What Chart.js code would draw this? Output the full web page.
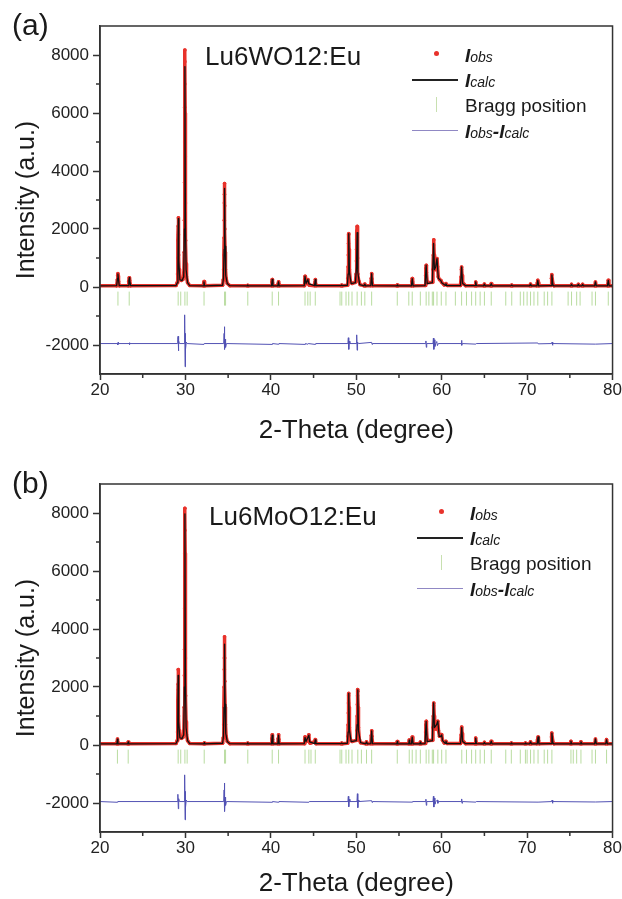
<!DOCTYPE html>
<html>
<head>
<meta charset="utf-8">
<script src="https://cdn.jsdelivr.net/npm/chart.js@4.4.1/dist/chart.umd.min.js"></script>
<style>
  body { margin: 0; background: #fff; font-family: "Liberation Sans", Arial, sans-serif; }
  #wrap { position: relative; width: 622px; height: 899px; overflow: hidden; }
  canvas { position: absolute; left: 0; }
  .t { position: absolute; white-space: nowrap; line-height: 1; color: #1a1a1a; }
  .tag { font-size: 30px; }
  .name { font-size: 26px; }
  .leg { font-size: 19px; }
  .leg b { font-style: italic; }
  .leg i { font-size: 14px; }
  .sym { position: absolute; }
</style>
</head>
<body>
<div id="wrap">
  <canvas id="chartA" width="622" height="458" style="top:0px"></canvas>
  <canvas id="chartB" width="622" height="441" style="top:458px"></canvas>

  <div class="t tag" style="left:12px; top:10px">(a)</div>
  <div class="t name" style="left:205px; top:43px">Lu6WO12:Eu</div>
  <div class="sym" style="left:434px; top:51px; width:5px; height:5px; border-radius:50%; background:#e8322b"></div>
  <div class="t leg" style="left:465px; top:46px"><b>I</b><i>obs</i></div>
  <div class="sym" style="left:412px; top:79px; width:46px; height:2px; background:#222"></div>
  <div class="t leg" style="left:465px; top:71px"><b>I</b><i>calc</i></div>
  <div class="sym" style="left:436px; top:97px; width:1px; height:15px; background:#c8e0b0"></div>
  <div class="t leg" style="left:465px; top:96px">Bragg position</div>
  <div class="sym" style="left:412px; top:130px; width:46px; height:1px; background:#9088c4"></div>
  <div class="t leg" style="left:465px; top:122px"><b>I</b><i>obs</i><b>-I</b><i>calc</i></div>

  <div class="t tag" style="left:12px; top:468px">(b)</div>
  <div class="t name" style="left:209px; top:503px">Lu6MoO12:Eu</div>
  <div class="sym" style="left:439px; top:509px; width:5px; height:5px; border-radius:50%; background:#e8322b"></div>
  <div class="t leg" style="left:470px; top:504px"><b>I</b><i>obs</i></div>
  <div class="sym" style="left:417px; top:537px; width:46px; height:2px; background:#222"></div>
  <div class="t leg" style="left:470px; top:529px"><b>I</b><i>calc</i></div>
  <div class="sym" style="left:441px; top:555px; width:1px; height:15px; background:#c8e0b0"></div>
  <div class="t leg" style="left:470px; top:554px">Bragg position</div>
  <div class="sym" style="left:417px; top:588px; width:46px; height:1px; background:#9088c4"></div>
  <div class="t leg" style="left:470px; top:580px"><b>I</b><i>obs</i><b>-I</b><i>calc</i></div>
</div>

<script>
// axis ticks
var xMajor = [20, 30, 40, 50, 60, 70, 80];
var xMinor = [25, 35, 45, 55, 65, 75];
var yMajor = [-2000, 0, 2000, 4000, 6000, 8000];
var yMinor = [-1000, 1000, 3000, 5000, 7000];

// (a) Lu6WO12:Eu  -- [2theta, intensity]
var calcA = [
  [20,40],[21.95,45],[22.05,300],[22.1,450],[22.15,300],[22.25,45],
  [23.3,45],[23.38,220],[23.43,320],[23.48,220],[23.58,45],
  [28.9,50],[29.05,150],[29.12,700],[29.17,2360],[29.22,900],[29.35,250],[29.6,220],[29.8,350],[29.88,2000],[29.94,7600],[30.0,2200],[30.08,600],[30.25,150],[30.5,50],
  [32.1,40],[32.17,180],[32.24,40],
  [34.35,60],[34.45,300],[34.53,1300],[34.58,3400],[34.64,1400],[34.72,400],[34.9,120],[35.2,45],
  [37.25,40],[37.3,70],[37.35,40],
  [40.08,40],[40.16,260],[40.24,40],[40.82,40],[40.9,180],[40.98,40],
  [43.9,45],[44.0,370],[44.12,120],[44.33,260],[44.45,110],[45.12,45],[45.2,250],[45.28,45],
  [48.2,45],[48.3,70],[48.4,45],
  [48.95,60],[49.05,450],[49.12,1840],[49.2,500],[49.4,120],[49.9,150],[50.03,700],[50.1,1870],[50.18,500],[50.4,80],
  [50.9,40],[51.0,100],[51.1,40],
  [51.7,45],[51.8,460],[51.9,45],
  [54.75,40],[54.8,70],[54.85,40],
  [56.45,40],[56.55,290],[56.65,40],
  [58.05,50],[58.18,750],[58.3,120],[58.9,150],[59.05,1500],[59.15,600],[59.3,700],[59.45,980],[59.6,300],[59.9,220],[60.0,150],[60.4,60],[60.5,115],[60.6,50],
  [62.2,50],[62.33,690],[62.45,120],[62.6,90],[62.8,45],
  [63.9,45],[63.98,175],[64.06,45],[64.9,40],[65.0,100],[65.1,40],[65.7,40],[65.8,115],[65.9,40],
  [68.1,40],[68.2,70],[68.3,40],
  [70.3,40],[70.4,100],[70.5,40],
  [71.15,40],[71.25,230],[71.35,40],
  [72.8,45],[72.9,420],[73.0,90],[73.1,40],
  [75.1,40],[75.2,90],[75.3,40],[75.9,40],[76.0,90],[76.1,40],[76.4,40],[76.5,90],[76.6,40],
  [77.9,40],[78.0,175],[78.1,40],
  [79.4,40],[79.5,230],[79.6,40],[80,40]
];
var obsA = [
  [20,40],[21.95,40],[22.03,250],[22.07,400],[22.1,460],[22.13,380],[22.17,200],[22.25,40],
  [23.3,40],[23.37,200],[23.42,320],[23.47,230],[23.58,40],
  [28.9,50],[29.03,150],[29.08,450],[29.11,1000],[29.13,1600],[29.15,2100],[29.17,2390],[29.19,1800],[29.21,1100],[29.25,600],[29.32,300],[29.5,230],[29.7,260],[29.82,500],
  [29.86,1200],[29.88,2300],[29.9,3600],[29.91,5000],[29.92,6200],[29.93,7000],[29.94,7770],[29.95,8170],[29.97,6000],[29.98,4500],[30.0,2900],[30.03,1600],[30.07,800],[30.13,350],[30.25,150],[30.5,50],
  [32.1,40],[32.15,130],[32.18,190],[32.22,100],[32.28,40],
  [34.35,60],[34.43,250],[34.48,600],[34.51,1100],[34.53,1700],[34.55,2300],[34.56,2900],[34.57,3200],[34.58,3570],[34.6,2800],[34.62,2000],[34.65,1200],[34.69,600],[34.76,300],[34.9,120],[35.2,45],
  [37.22,40],[37.3,60],[37.38,40],
  [40.08,40],[40.13,180],[40.16,260],[40.2,150],[40.26,40],[40.82,40],[40.87,130],[40.9,180],[40.94,110],[41.0,40],
  [43.9,45],[43.96,250],[44.0,370],[44.05,200],[44.15,120],[44.3,200],[44.34,260],[44.4,130],[44.5,60],[45.12,45],[45.17,170],[45.2,255],[45.24,120],[45.3,45],
  [48.22,40],[48.3,70],[48.38,40],
  [48.95,60],[49.02,300],[49.05,700],[49.07,1100],[49.09,1500],[49.11,1800],[49.13,1840],[49.16,1300],[49.2,600],[49.3,200],[49.5,120],
  [49.9,160],[49.98,450],[50.02,900],[50.04,1300],[50.06,1650],[50.08,1900],[50.1,2090],[50.12,1700],[50.15,1000],[50.2,450],[50.3,200],[50.45,80],
  [50.92,40],[51.0,100],[51.08,40],
  [51.7,45],[51.76,300],[51.8,460],[51.84,280],[51.92,45],
  [54.72,40],[54.8,70],[54.88,40],
  [56.45,40],[56.51,200],[56.55,290],[56.6,180],[56.68,40],
  [58.05,50],[58.12,400],[58.16,650],[58.19,750],[58.22,500],[58.3,150],[58.9,160],[58.98,600],[59.02,1100],[59.05,1450],[59.08,1630],[59.12,1100],[59.17,650],
  [59.25,600],[59.33,750],[59.4,900],[59.45,980],[59.52,700],[59.6,350],[59.75,250],[59.9,230],[60.0,160],[60.3,70],[60.5,115],[60.65,50],
  [62.2,50],[62.27,350],[62.31,600],[62.34,690],[62.38,400],[62.45,150],[62.6,100],[62.8,45],
  [63.9,40],[63.98,175],[64.06,40],[64.92,40],[65.0,100],[65.08,40],[65.72,40],[65.8,115],[65.88,40],
  [68.12,40],[68.2,70],[68.28,40],[70.32,40],[70.4,100],[70.48,40],
  [71.12,40],[71.2,150],[71.25,230],[71.3,150],[71.38,40],
  [72.8,50],[72.85,300],[72.9,426],[72.95,250],[73.05,80],[73.15,40],
  [75.12,40],[75.2,90],[75.28,40],[75.92,40],[76.0,92],[76.08,40],[76.42,40],[76.5,90],[76.58,40],
  [77.92,40],[78.0,175],[78.08,40],[79.42,40],[79.5,230],[79.58,40],[80,40]
];
var diffA = [
  [20,-1950],[22.05,-1950],[22.08,-2000],[22.12,-1910],[22.16,-1950],[23.4,-1950],[23.43,-1990],[23.47,-1920],[23.5,-1950],
  [29.05,-1950],[29.1,-1800],[29.14,-1700],[29.18,-2200],[29.22,-1850],[29.3,-1950],
  [29.85,-1950],[29.89,-1500],[29.93,-960],[29.96,-2750],[29.99,-1600],[30.03,-2150],[30.1,-1900],[30.2,-1950],
  [32.17,-1980],[32.2,-1950],
  [34.48,-1950],[34.53,-1600],[34.56,-1370],[34.6,-2150],[34.65,-1800],[34.7,-2080],[34.8,-1950],
  [40.16,-1980],[40.2,-1950],[40.9,-1975],[40.95,-1950],[44.0,-1980],[44.05,-1950],[44.33,-1975],[44.38,-1950],[45.2,-1980],[45.25,-1950],
  [49.02,-1950],[49.07,-1750],[49.12,-2150],[49.18,-1870],[49.25,-1950],
  [50.0,-1950],[50.05,-1650],[50.1,-2180],[50.15,-1900],[50.25,-1950],
  [51.8,-1910],[51.85,-1980],[51.9,-1950],
  [58.1,-1950],[58.15,-1860],[58.2,-2080],[58.25,-1950],
  [58.98,-1950],[59.03,-1760],[59.08,-2150],[59.13,-1820],[59.2,-2050],[59.3,-1950],[59.42,-1880],[59.5,-2020],[59.6,-1950],
  [62.28,-1950],[62.32,-1840],[62.37,-2010],[62.42,-1950],
  [64.0,-1970],[64.05,-1950],[71.25,-1930],[71.3,-1960],
  [72.88,-1950],[72.92,-1900],[72.97,-2010],[73.02,-1950],
  [78.0,-1970],[80,-1950]
];
var braggA = [22.1,23.42,29.15,29.45,29.94,30.2,32.18,34.58,34.7,37.3,40.16,40.9,44.0,44.33,44.6,45.2,48.1,48.3,48.8,49.12,49.5,50.1,50.6,51.0,51.8,
  54.8,56.15,56.55,57.5,58.18,58.5,58.9,59.05,59.45,59.95,60.5,61.6,62.33,62.9,63.5,63.98,64.5,65.0,65.8,67.5,68.2,69.2,69.6,70.0,70.4,70.8,
  71.25,72.0,72.4,72.9,74.8,75.2,75.8,76.2,77.6,78.0,79.5];

// (b) Lu6MoO12:Eu
var calcB = [
  [20,40],[21.98,40],[22.04,200],[22.1,40],
  [23.25,40],[23.3,110],[23.35,40],
  [28.9,50],[29.05,150],[29.1,700],[29.15,2400],[29.2,800],[29.35,250],[29.6,220],[29.8,350],[29.88,2000],[29.94,7970],[30.0,2200],[30.08,600],[30.25,150],[30.5,50],
  [32.15,40],[32.2,80],[32.25,40],
  [34.35,60],[34.45,300],[34.52,1300],[34.58,3480],[34.64,1400],[34.72,400],[34.9,120],[35.2,45],
  [37.25,40],[37.3,80],[37.35,40],
  [40.08,40],[40.16,340],[40.24,40],[40.82,40],[40.9,340],[40.98,40],
  [43.9,45],[44.0,260],[44.12,120],[44.45,340],[44.55,110],[45.12,45],[45.2,180],[45.28,45],
  [48.2,45],[48.3,70],[48.4,45],
  [48.95,60],[49.05,450],[49.12,1780],[49.2,500],[49.4,120],[50.0,150],[50.1,700],[50.18,1900],[50.26,500],[50.5,80],
  [51.1,40],[51.2,110],[51.3,40],
  [51.7,45],[51.8,490],[51.9,45],
  [54.75,40],[54.8,120],[54.85,40],
  [56.15,40],[56.2,170],[56.25,40],[56.45,40],[56.55,270],[56.65,40],[57.45,40],[57.5,100],[57.55,40],
  [58.05,50],[58.18,810],[58.3,120],[58.9,150],[59.05,1450],[59.15,600],[59.4,700],[59.55,820],[59.7,300],[59.9,300],[60.0,350],[60.1,150],[60.4,60],[60.5,130],[60.6,50],
  [62.2,50],[62.35,610],[62.45,120],[62.6,90],[62.8,45],
  [63.9,45],[63.98,240],[64.06,45],[64.9,40],[65.0,90],[65.1,40],[65.7,40],[65.8,130],[65.9,40],
  [68.1,40],[68.15,70],[68.2,40],
  [69.75,40],[69.8,70],[69.85,40],[70.3,40],[70.4,110],[70.5,40],
  [71.18,40],[71.28,280],[71.38,40],
  [72.8,45],[72.9,410],[73.0,90],[73.1,40],
  [75.05,40],[75.13,130],[75.2,40],[76.2,40],[76.3,110],[76.4,40],
  [77.9,40],[78.0,210],[78.1,40],
  [79.2,40],[79.3,180],[79.4,40],[80,40]
];
var obsB = [
  [20,40],[21.98,40],[22.02,130],[22.04,205],[22.07,120],[22.12,40],
  [23.22,40],[23.3,100],[23.38,40],
  [28.9,50],[29.03,150],[29.08,450],[29.1,900],[29.12,1500],[29.14,2100],[29.15,2600],[29.17,1900],[29.2,1000],[29.25,500],[29.33,280],[29.5,230],[29.7,260],[29.82,500],
  [29.86,1300],[29.88,2400],[29.9,3300],[29.91,4700],[29.92,5800],[29.93,6600],[29.94,7400],[29.95,8160],[29.97,6600],[29.98,5000],[30.0,3000],[30.03,1700],[30.07,800],[30.13,350],[30.25,150],[30.5,50],
  [32.12,40],[32.2,70],[32.28,40],
  [34.35,60],[34.43,250],[34.48,700],[34.51,1300],[34.53,2000],[34.55,2600],[34.56,3000],[34.58,3730],[34.6,3000],[34.62,2200],[34.65,1300],[34.69,700],[34.76,300],[34.9,120],[35.2,45],
  [37.22,40],[37.3,70],[37.38,40],
  [40.08,40],[40.12,220],[40.16,350],[40.2,200],[40.26,40],[40.82,40],[40.86,220],[40.9,350],[40.94,200],[41.0,40],
  [43.94,45],[43.98,200],[44.0,280],[44.05,170],[44.15,120],[44.4,250],[44.45,350],[44.5,150],[44.6,60],[45.15,120],[45.2,185],[45.25,100],[45.3,45],
  [48.22,40],[48.3,70],[48.38,40],
  [48.95,60],[49.02,300],[49.05,700],[49.07,1100],[49.09,1450],[49.11,1700],[49.13,1780],[49.16,1300],[49.2,600],[49.3,200],[49.5,120],
  [50.0,160],[50.08,500],[50.11,1000],[50.13,1400],[50.15,1700],[50.17,1910],[50.19,1850],[50.22,1300],[50.26,600],[50.35,200],[50.5,80],
  [51.12,40],[51.2,110],[51.28,40],
  [51.7,45],[51.76,330],[51.8,490],[51.84,300],[51.92,45],
  [54.72,40],[54.8,120],[54.88,40],[56.12,40],[56.2,170],[56.28,40],[56.47,40],[56.55,275],[56.63,40],[57.42,40],[57.5,100],[57.58,40],
  [58.05,50],[58.12,450],[58.16,700],[58.19,818],[58.22,550],[58.3,150],[58.9,160],[58.98,600],[59.02,1000],[59.05,1350],[59.08,1450],[59.12,1000],[59.17,650],
  [59.3,550],[59.45,700],[59.55,818],[59.62,500],[59.75,300],[59.9,320],[60.0,357],[60.1,160],[60.3,70],[60.5,127],[60.65,50],
  [62.2,50],[62.28,350],[62.32,550],[62.35,622],[62.39,400],[62.45,150],[62.6,100],[62.8,45],
  [63.9,40],[63.98,240],[64.06,40],[64.92,40],[65.0,90],[65.08,40],[65.72,40],[65.8,127],[65.88,40],
  [68.08,40],[68.16,70],[68.24,40],[69.72,40],[69.8,70],[69.88,40],[70.32,40],[70.4,110],[70.48,40],
  [71.14,40],[71.22,180],[71.28,277],[71.33,160],[71.42,40],
  [72.8,50],[72.85,280],[72.9,415],[72.95,250],[73.05,80],[73.15,40],
  [75.05,40],[75.13,127],[75.21,40],[76.22,40],[76.3,110],[76.38,40],
  [77.92,40],[78.0,207],[78.08,40],[79.22,40],[79.3,185],[79.38,40],[80,40]
];
var diffB = [
  [20,-1950],[22.04,-1975],[22.08,-1950],
  [29.05,-1950],[29.1,-1800],[29.13,-1700],[29.17,-2200],[29.21,-1850],[29.3,-1950],
  [29.85,-1950],[29.89,-1450],[29.93,-1030],[29.96,-2580],[29.99,-1600],[30.03,-2150],[30.1,-1900],[30.2,-1950],
  [34.48,-1950],[34.53,-1550],[34.56,-1310],[34.6,-2290],[34.65,-1800],[34.7,-2080],[34.8,-1950],
  [40.16,-1975],[40.2,-1950],[40.9,-1975],[40.95,-1950],[44.45,-1975],[44.5,-1950],
  [49.02,-1950],[49.07,-1770],[49.12,-2130],[49.18,-1870],[49.25,-1950],
  [50.08,-1950],[50.13,-1680],[50.18,-2160],[50.23,-1900],[50.3,-1950],
  [51.8,-1920],[51.85,-1980],[51.9,-1950],[56.55,-1970],[56.6,-1950],
  [58.1,-1950],[58.15,-1870],[58.2,-2080],[58.25,-1950],
  [58.98,-1950],[59.03,-1770],[59.08,-2140],[59.13,-1830],[59.2,-2040],[59.3,-1950],[59.5,-1900],[59.55,-2010],[59.6,-1950],
  [62.3,-1950],[62.34,-1860],[62.38,-2010],[62.42,-1950],
  [64.0,-1970],[64.05,-1950],[71.28,-1970],
  [72.88,-1950],[72.92,-1900],[72.97,-2010],[73.02,-1950],
  [78.0,-1965],[80,-1950]
];
var braggB = [22.04,23.3,29.15,29.45,29.94,30.2,32.2,34.58,34.7,37.3,40.16,40.9,44.0,44.45,44.7,45.2,48.1,48.3,48.8,49.12,49.5,50.18,50.6,51.2,51.8,
  54.8,56.2,56.55,57.0,57.5,58.18,58.5,58.9,59.05,59.55,60.0,60.5,62.35,62.9,63.5,63.98,64.5,65.0,65.8,67.5,68.15,69.2,69.8,70.0,70.4,70.8,
  71.28,72.0,72.4,72.9,75.13,75.4,75.8,76.3,77.6,78.0,79.3];
var braggLevel = -400;

var red = '#e8322b', blue = '#5252b4', green = '#b9dca0', axisCol = '#333';

function pts(arr) {
  return arr.map(function(p) { return { x: p[0], y: p[1] }; });
}

var framePlugin = {
  id: 'frame',
  afterDraw: function(chart) {
    var ctx = chart.ctx, a = chart.chartArea;
    var xs = chart.scales.x, ys = chart.scales.y;
    ctx.save();
    ctx.strokeStyle = axisCol;
    ctx.lineWidth = 1.5;
    ctx.strokeRect(a.left, a.top, a.right - a.left, a.bottom - a.top);
    ctx.beginPath();
    xMinor.forEach(function(v) {
      var px = xs.getPixelForValue(v);
      ctx.moveTo(px, a.bottom); ctx.lineTo(px, a.bottom + 4);
    });
    yMinor.forEach(function(v) {
      var py = ys.getPixelForValue(v);
      ctx.moveTo(a.left, py); ctx.lineTo(a.left - 4, py);
    });
    ctx.stroke();
    ctx.restore();
  }
};

function makePanel(id, calc, obs, diff, bragg, titlePad) {
  var braggPts = bragg.map(function(v) { return { x: v, y: braggLevel }; });
  return new Chart(document.getElementById(id), {
    type: 'line',
    data: {
      datasets: [
        { data: pts(calc), borderColor: '#111', borderWidth: 1.3, borderJoinStyle: 'round', pointRadius: 0, order: 0 },
        { data: pts(obs), borderColor: red, borderWidth: 3.5, borderJoinStyle: 'round', borderCapStyle: 'round', pointRadius: 1.8, pointBackgroundColor: red, pointBorderWidth: 0, order: 1 },
        { data: pts(diff), borderColor: blue, borderWidth: 1, borderJoinStyle: 'round', pointRadius: 0, order: 2 },
        { data: braggPts, showLine: false, pointStyle: 'line', rotation: 90, pointRadius: 7, borderColor: green, pointBorderColor: green, pointBorderWidth: 1, order: 3 }
      ]
    },
    options: {
      responsive: false,
      animation: false,
      events: [],
      layout: { padding: { left: 0, right: 9, top: 26, bottom: 0 }, autoPadding: false },
      plugins: { legend: { display: false }, tooltip: { enabled: false } },
      scales: {
        x: {
          type: 'linear', min: 20, max: 80,
          afterBuildTicks: function(s) { s.ticks = xMajor.map(function(v) { return { value: v }; }); },
          afterFit: function(s) { s.height = titlePad.h; },
          ticks: { font: { size: 17 }, color: '#222', padding: 0, maxRotation: 0, callback: function(v) { return String(v); } },
          grid: { drawOnChartArea: false, tickLength: 6, tickColor: axisCol, tickWidth: 1.5 },
          border: { color: axisCol, width: 1.5 },
          title: { display: true, text: '2-Theta (degree)', font: { size: 26 }, color: '#1a1a1a', padding: { top: 0, bottom: titlePad.b } }
        },
        y: {
          type: 'linear', min: -3000, max: 9000,
          afterBuildTicks: function(s) { s.ticks = yMajor.map(function(v) { return { value: v }; }); },
          afterFit: function(s) { s.width = 100; },
          ticks: { font: { size: 17 }, color: '#222', padding: 4, callback: function(v) { return String(v); } },
          grid: { drawOnChartArea: false, tickLength: 7, tickColor: axisCol, tickWidth: 1.5 },
          border: { color: axisCol, width: 1.5 },
          title: { display: true, text: 'Intensity (a.u.)', font: { size: 25 }, color: '#1a1a1a', padding: { top: 12, bottom: 0 } }
        }
      }
    },
    plugins: [framePlugin]
  });
}

makePanel('chartA', calcA, obsA, diffA, braggA, { h: 84, b: 12 });
makePanel('chartB', calcB, obsB, diffB, braggB, { h: 67, b: 0 });
</script>
</body>
</html>
